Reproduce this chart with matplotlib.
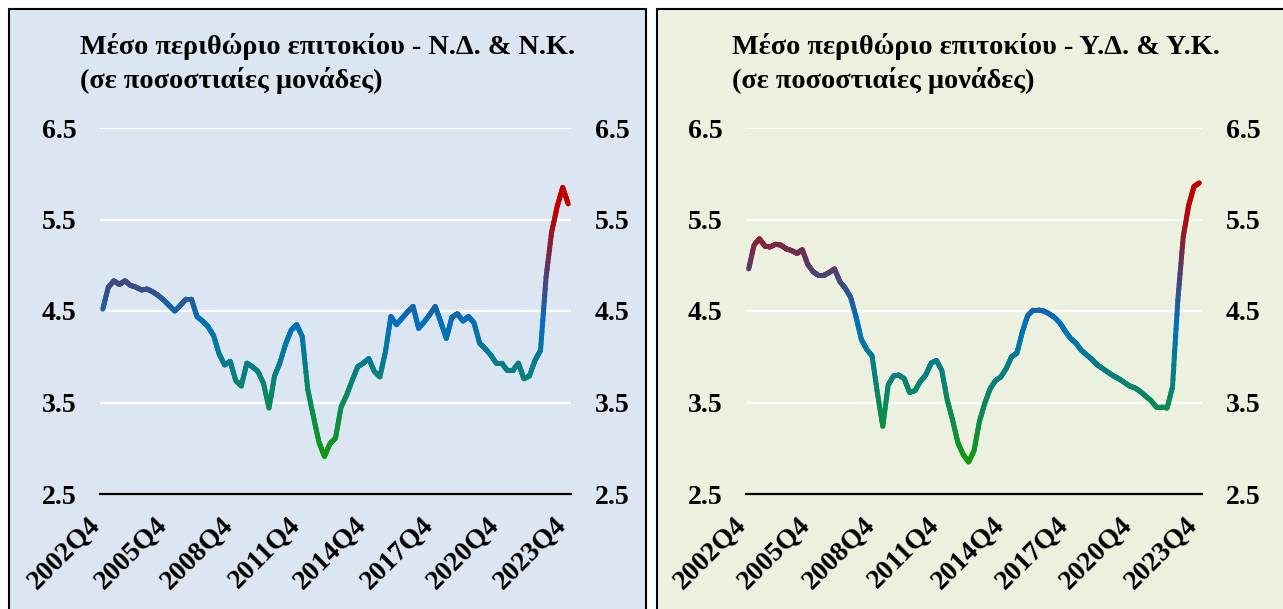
import numpy as np
import matplotlib
matplotlib.use("Agg")
import matplotlib.pyplot as plt
import matplotlib.transforms as mtransforms
from matplotlib.collections import LineCollection
from matplotlib.colors import LinearSegmentedColormap
from matplotlib.patches import Rectangle

# ---------------- data ----------------
quarters = [f"{y}Q{q}" for y in range(2002, 2024) for q in range(1, 5)]
quarters = quarters[quarters.index("2002Q4"):quarters.index("2023Q4") + 1]

tick_labels = ["2002Q4", "2005Q4", "2008Q4", "2011Q4", "2014Q4", "2017Q4", "2020Q4", "2023Q4"]

margin_nd_nk = [
    4.52, 4.76, 4.83, 4.79, 4.83, 4.78, 4.76, 4.73, 4.74, 4.71,
    4.67, 4.62, 4.56, 4.50, 4.56, 4.63, 4.63, 4.44, 4.39, 4.33,
    4.23, 4.03, 3.91, 3.95, 3.74, 3.68, 3.93, 3.89, 3.84, 3.71,
    3.44, 3.79, 3.94, 4.14, 4.29, 4.35, 4.22, 3.64, 3.35, 3.07,
    2.91, 3.05, 3.11, 3.45, 3.58, 3.74, 3.89, 3.93, 3.98, 3.84,
    3.78, 4.05, 4.44, 4.35, 4.42, 4.49, 4.55, 4.31, 4.38, 4.46,
    4.55, 4.38, 4.20, 4.43, 4.47, 4.39, 4.44, 4.37, 4.15, 4.09,
    4.02, 3.93, 3.93, 3.85, 3.85, 3.93, 3.76, 3.79, 3.96, 4.07,
    4.87, 5.36, 5.64, 5.85, 5.67,
]

margin_yd_yk = [
    4.96, 5.22, 5.29, 5.21, 5.20, 5.23, 5.22, 5.18, 5.16, 5.13,
    5.17, 5.01, 4.93, 4.89, 4.89, 4.92, 4.96, 4.82, 4.75, 4.65,
    4.44, 4.19, 4.08, 4.01, 3.60, 3.24, 3.69, 3.79, 3.80, 3.76,
    3.61, 3.63, 3.73, 3.80, 3.93, 3.96, 3.85, 3.53, 3.31, 3.06,
    2.93, 2.85, 2.97, 3.29, 3.49, 3.65, 3.74, 3.78, 3.87, 4.00,
    4.04, 4.27, 4.45, 4.51, 4.51, 4.50, 4.47, 4.43, 4.37, 4.28,
    4.20, 4.15, 4.07, 4.02, 3.97, 3.91, 3.87, 3.83, 3.79, 3.76,
    3.72, 3.68, 3.66, 3.62, 3.57, 3.52, 3.45, 3.45, 3.44, 3.67,
    4.62, 5.31, 5.65, 5.86, 5.90,
]

titles = ["Μέσο περιθώριο επιτοκίου - Ν.Δ. & Ν.Κ.", "Μέσο περιθώριο επιτοκίου - Υ.Δ. & Υ.Κ."]
subtitle = "(σε ποσοστιαίες μονάδες)"
yticks = [2.5, 3.5, 4.5, 5.5, 6.5]

# ---------------- style ----------------
W, H = 1283, 609
FONT = "Liberation Serif"
cmap = LinearSegmentedColormap.from_list(
    "grad", [(0.0, "#129a12"), (0.5, "#0070c0"), (0.92, "#c00000"), (1.0, "#c00000")])

fig = plt.figure(figsize=(W / 100, H / 100), dpi=100)

def fx(px):
    return px / W

def fy(py):
    return 1 - py / H

panels = [
    dict(box=(9, 9, 646, 640), bg="#dce6f2", ax=(100, 571), title_x=80, data=margin_nd_nk, title=titles[0]),
    dict(box=(657, 9, 1300, 640), bg="#ebf1de", ax=(746, 1202), title_x=732, data=margin_yd_yk, title=titles[1]),
]

NSUB = 12  # colour steps drawn along each straight segment

for p in panels:
    x0, y0, x1, y1 = p["box"]
    fig.patches.append(Rectangle((fx(x0), fy(y1)), fx(x1 - x0), (y1 - y0) / H,
                                 transform=fig.transFigure, facecolor=p["bg"],
                                 edgecolor="black", linewidth=1.5, zorder=-5))
    ax_top, ax_bot = 128, 494
    a0, a1 = p["ax"]
    ax = fig.add_axes([fx(a0), fy(ax_bot), fx(a1 - a0), (ax_bot - ax_top) / H])
    ax.set_zorder(2)
    ax.patch.set_visible(False)
    vals = np.array(p["data"])
    x = np.arange(len(vals))
    ax.set_xlim(-0.5, len(vals) - 0.5)
    ax.set_ylim(2.5, 6.5)
    for yv in yticks[1:]:
        ax.axhline(yv, color="white", lw=1.6, zorder=1)
    ax.axhline(2.5, color="black", lw=1.6, zorder=2, clip_on=False)

    # vertical gradient colouring of the line: split each straight segment
    # into colour steps (geometry unchanged)
    segs, cols = [], []
    vmin, vmax = vals.min(), vals.max()
    for i in range(len(vals) - 1):
        fr = np.linspace(0, 1, NSUB + 1)
        xs = x[i] + (x[i + 1] - x[i]) * fr
        ys = vals[i] + (vals[i + 1] - vals[i]) * fr
        for k in range(NSUB):
            segs.append([(xs[k], ys[k]), (xs[k + 1], ys[k + 1])])
            cols.append(cmap(((ys[k] + ys[k + 1]) / 2 - vmin) / (vmax - vmin)))
    lc = LineCollection(segs, colors=cols, linewidths=3.6, capstyle="round",
                        joinstyle="round", zorder=3)
    ax.add_collection(lc)

    for s in ax.spines.values():
        s.set_visible(False)
    ax.set_yticks(yticks)
    ax.set_yticklabels([f"{v:.1f}" for v in yticks], fontfamily=FONT, fontweight="bold", fontsize=20)
    ax.tick_params(axis="y", length=0, pad=17, labelleft=True, labelright=True)
    tpos = [quarters.index(l) for l in tick_labels]
    ax.set_xticks(tpos)
    ax.set_xticklabels(tick_labels, rotation=45, ha="right", va="top", rotation_mode="anchor",
                       fontfamily=FONT, fontweight="bold", fontsize=20)
    ax.tick_params(axis="x", length=0, pad=13)
    off = mtransforms.ScaledTranslation(-15 / 100, 0, fig.dpi_scale_trans)
    for lab in ax.get_xticklabels():
        lab.set_transform(lab.get_transform() + off)

    fig.text(fx(p["title_x"]), fy(47), p["title"], fontfamily=FONT, fontweight="bold",
             fontsize=20.3, ha="left", va="center")
    fig.text(fx(p["title_x"]), fy(80), subtitle, fontfamily=FONT, fontweight="bold",
             fontsize=20.3, ha="left", va="center")

fig.savefig("out.png", dpi=100)
